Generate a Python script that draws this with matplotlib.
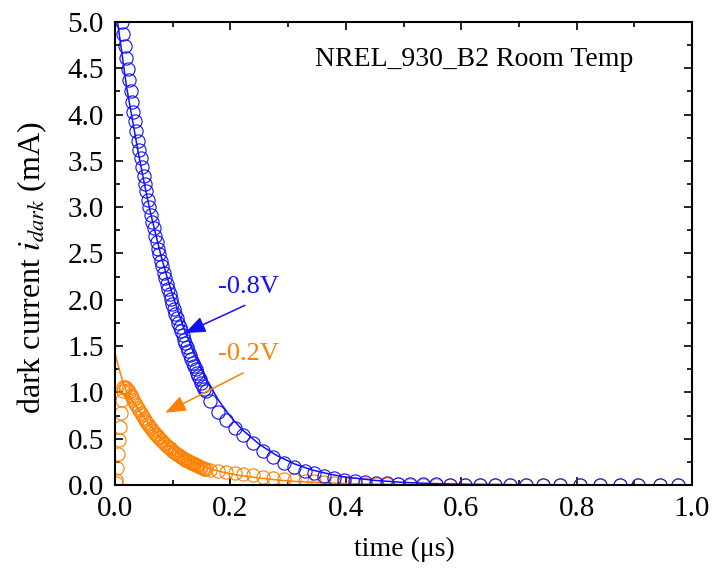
import matplotlib
matplotlib.use("Agg")
import matplotlib.pyplot as plt
from matplotlib.ticker import MultipleLocator, FormatStrFormatter

plt.rcParams['font.family'] = ['Liberation Serif', 'DejaVu Serif']
plt.rcParams['mathtext.fontset'] = 'stix'

# ---- data: time (us) and dark current (mA) ----
t_dense = [0.007, 0.0095, 0.012, 0.0145, 0.017, 0.0195, 0.022, 0.0245, 0.027, 0.0295,
           0.032, 0.0345, 0.037, 0.0395, 0.042, 0.0445, 0.047, 0.0495, 0.052, 0.0545,
           0.057, 0.0595, 0.062, 0.0645, 0.067, 0.0695, 0.072, 0.0745, 0.077, 0.0795,
           0.082, 0.0845, 0.087, 0.0895, 0.092, 0.0945, 0.097, 0.0995, 0.102, 0.1045,
           0.107, 0.1095, 0.112, 0.1145, 0.117, 0.1195, 0.122, 0.1245, 0.127, 0.1295,
           0.132, 0.1345, 0.137, 0.1395, 0.142, 0.1445, 0.147, 0.1495, 0.152, 0.1545,
           0.157]
t_sparse = [0.165, 0.179, 0.193, 0.208, 0.222, 0.239, 0.257, 0.274, 0.293, 0.311,
            0.329, 0.345, 0.362, 0.379, 0.397, 0.416, 0.434, 0.453, 0.471, 0.491,
            0.511, 0.534, 0.557, 0.580, 0.606, 0.633, 0.659, 0.685, 0.713, 0.742,
            0.771, 0.806, 0.840, 0.875, 0.906, 0.944, 0.976]

i_08_dense = [5.28, 5.14, 5.00, 4.87, 4.74, 4.61, 4.49, 4.37, 4.26, 4.14,
              4.03, 3.93, 3.82, 3.72, 3.62, 3.53, 3.43, 3.34, 3.25, 3.17,
              3.08, 3.00, 2.92, 2.84, 2.77, 2.69, 2.62, 2.55, 2.49, 2.42,
              2.36, 2.29, 2.23, 2.17, 2.12, 2.06, 2.01, 1.95, 1.90, 1.85,
              1.80, 1.75, 1.71, 1.66, 1.62, 1.57, 1.53, 1.49, 1.45, 1.40,
              1.36, 1.32, 1.285, 1.25, 1.21, 1.175, 1.14, 1.105, 1.07, 1.04,
              1.01]
i_08_sparse = [0.91, 0.79, 0.70, 0.62, 0.54, 0.45, 0.37, 0.30, 0.24, 0.19,
               0.155, 0.125, 0.095, 0.075, 0.058, 0.045, 0.035, 0.027, 0.021, 0.016,
               0.012, 0.009, 0.007, 0.005, 0.004, 0.003, 0.002, 0.002, 0.001, 0.001,
               0.001, 0.0, 0.0, 0.0, 0.0, 0.0, 0.0]

t_rise = [0.001, 0.0025, 0.004, 0.0055, 0.007, 0.0085, 0.010, 0.0115, 0.013, 0.0145]
i_02_rise = [0.02, 0.05, 0.18, 0.34, 0.49, 0.63, 0.78, 0.92, 1.02, 1.06]
i_02_dense = [None, None, None, None, 1.06, 1.05, 1.03, 1.00, 0.97, 0.95,
              0.92, 0.89, 0.86, 0.832, 0.805, 0.778, 0.752, 0.728, 0.704, 0.680,
              0.658, 0.636, 0.615, 0.595, 0.575, 0.556, 0.538, 0.520, 0.503, 0.486,
              0.470, 0.455, 0.440, 0.425, 0.411, 0.398, 0.385, 0.372, 0.360, 0.348,
              0.336, 0.325, 0.315, 0.304, 0.294, 0.284, 0.275, 0.266, 0.257, 0.249,
              0.241, 0.233, 0.225, 0.218, 0.211, 0.204, 0.197, 0.190, 0.184, 0.178,
              0.172]
i_02_sparse = [0.165, 0.15, 0.14, 0.13, 0.12, 0.105, 0.09, 0.078, 0.065, 0.055,
               0.046, 0.038, 0.031, 0.025, 0.020, 0.016, 0.013, 0.010, 0.008, 0.006,
               0.005, 0.004, 0.003, 0.002, 0.002, 0.001, 0.001, 0.001, 0.0, 0.0,
               0.0, 0.0, 0.0, 0.0, 0.0, 0.0, 0.0]

# fitted curves
t_fit_08 = [0.0, 0.01, 0.02, 0.03, 0.04, 0.05, 0.06, 0.07, 0.08, 0.09, 0.10, 0.12,
            0.14, 0.16, 0.18, 0.20, 0.22, 0.25, 0.28, 0.31, 0.34, 0.37, 0.40, 0.45,
            0.50, 0.55, 0.60, 0.70, 0.80, 0.90, 1.00]
i_fit_08 = [5.2, 4.75, 4.3, 3.95, 3.6, 3.28, 2.98, 2.72, 2.47, 2.25, 2.05, 1.68,
            1.38, 1.12, 0.91, 0.74, 0.60, 0.44, 0.32, 0.23, 0.165, 0.12, 0.085, 0.05,
            0.028, 0.016, 0.009, 0.003, 0.001, 0.0, 0.0]
t_fit_02 = [0.0, 0.005, 0.01, 0.015, 0.02, 0.03, 0.04, 0.05, 0.06, 0.08, 0.10, 0.12,
            0.14, 0.16, 0.18, 0.20, 0.22, 0.25, 0.28, 0.31, 0.34, 0.37, 0.40, 0.45,
            0.50, 0.60, 0.80, 1.00]
i_fit_02 = [1.42, 1.30, 1.19, 1.09, 1.01, 0.91, 0.82, 0.73, 0.65, 0.50, 0.39, 0.30,
            0.235, 0.185, 0.15, 0.12, 0.10, 0.075, 0.055, 0.04, 0.03, 0.022, 0.016, 0.009,
            0.005, 0.002, 0.0, 0.0]

BLUE = '#1010ff'
ORANGE = '#ff8000'

fig = plt.figure(figsize=(7.13, 5.71), dpi=100)
ax = fig.add_axes([0.1613, 0.1506, 0.8093, 0.8109])

# orange (-0.2 V)
t02 = t_rise + [t for t, v in zip(t_dense, i_02_dense) if v is not None] + t_sparse
i02 = i_02_rise + [v for v in i_02_dense if v is not None] + i_02_sparse
ax.plot(t02, i02, linestyle='none', marker='o', markersize=9.5, markerfacecolor='none',
        markeredgecolor=ORANGE, markeredgewidth=0.8)
ax.plot(t_fit_02, i_fit_02, color=ORANGE, lw=1.1)

# blue (-0.8 V)
t08 = t_dense + t_sparse
i08 = i_08_dense + i_08_sparse
ax.plot(t08, i08, linestyle='none', marker='o', markersize=9.5, markerfacecolor='none',
        markeredgecolor=BLUE, markeredgewidth=0.8)
ax.plot(t_fit_08, i_fit_08, color=BLUE, lw=1.1)

ax.set_xlim(0, 1.0)
ax.set_ylim(0, 5.0)
ax.xaxis.set_major_locator(MultipleLocator(0.2))
ax.xaxis.set_minor_locator(MultipleLocator(0.1))
ax.yaxis.set_major_locator(MultipleLocator(0.5))
ax.yaxis.set_minor_locator(MultipleLocator(0.25))
ax.xaxis.set_major_formatter(FormatStrFormatter('%.1f'))
ax.yaxis.set_major_formatter(FormatStrFormatter('%.1f'))
ax.tick_params(which='both', direction='in', top=True, right=True, labelsize=21, pad=8)
ax.tick_params(which='major', length=6, width=1.2)
ax.tick_params(which='minor', length=3.5, width=1.2)
for s in ax.spines.values():
    s.set_linewidth(1.5)

ax.set_xlabel('time (\u03bcs)', fontsize=20)
ax.xaxis.set_label_coords(0.501, -0.112)
ax.set_ylabel('dark current $i_{dark}$ (mA)', fontsize=23)
ax.yaxis.set_label_coords(-0.115, 0.47)

ax.text(0.622, 4.60, 'NREL_930_B2 Room Temp', fontsize=20, ha='center', va='center')
ax.text(0.232, 2.14, '-0.8V', color=BLUE, fontsize=19, ha='center', va='center')
ax.text(0.232, 1.41, '-0.2V', color=ORANGE, fontsize=19, ha='center', va='center')

ax.annotate('', xy=(0.121, 1.64), xytext=(0.225, 1.94),
            arrowprops=dict(arrowstyle='-|>,head_length=0.9,head_width=0.35',
                            color=BLUE, lw=1.1, shrinkA=0, shrinkB=0, mutation_scale=14))
ax.annotate('', xy=(0.087, 0.78), xytext=(0.222, 1.21),
            arrowprops=dict(arrowstyle='-|>,head_length=0.9,head_width=0.35',
                            color=ORANGE, lw=1.1, shrinkA=0, shrinkB=0, mutation_scale=14))

fig.savefig('out.png', dpi=100)
